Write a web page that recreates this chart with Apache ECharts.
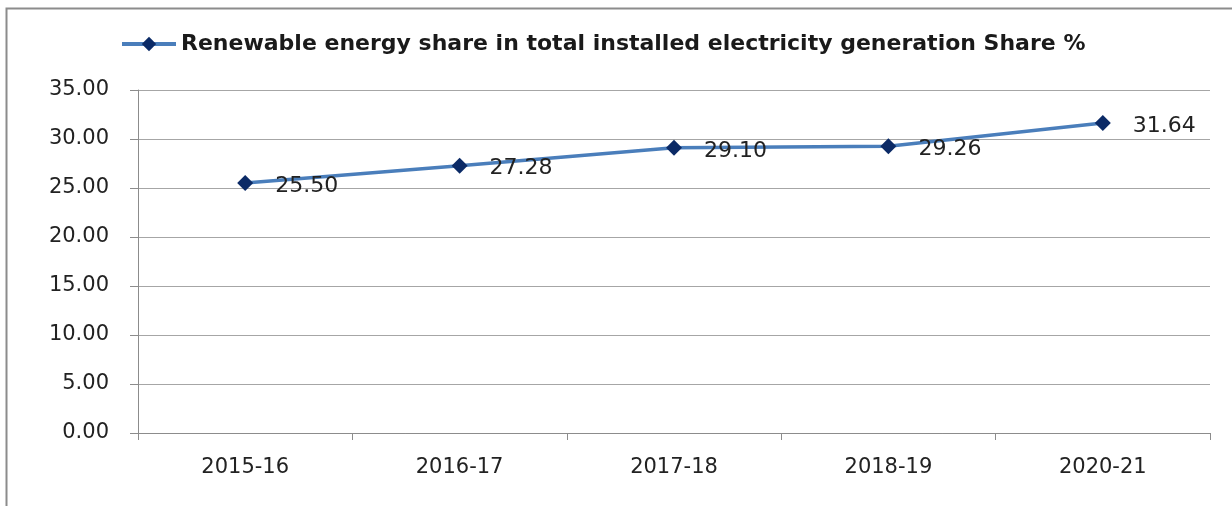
<!DOCTYPE html>
<html>
<head>
<meta charset="utf-8">
<script src="https://cdn.jsdelivr.net/npm/echarts@6/dist/echarts.min.js"></script>
<style>
  html, body { margin: 0; padding: 0; background: #fff; }
  #chart { width: 1232px; height: 506px; }
</style>
</head>
<body>
<div id="chart"></div>
<script>
const years = ['2015-16', '2016-17', '2017-18', '2018-19', '2020-21']
const shareValues = [25.50, 27.28, 29.10, 29.26, 31.64]
const seriesName = 'Renewable energy share in total installed electricity generation Share %'

const myChart = echarts.init(document.getElementById('chart'))
myChart.setOption({
  animation: false,
  graphic: [
    {
      type: 'rect',
      shape: { x: 6.5, y: 8.5, width: 1300, height: 600 },
      style: { fill: 'none', stroke: '#8c8c8c', lineWidth: 2 }
    }
  ],
  legend: {
    data: [seriesName],
    top: 28,
    left: 115,
    itemWidth: 54,
    itemHeight: 18,
    itemGap: 4,
    lineStyle: { width: 4 },
    textStyle: {
      fontFamily: 'DejaVu Sans',
      fontWeight: 'bold',
      fontSize: 22,
      color: '#1a1a1a'
    }
  },
  grid: {
    left: 138,
    right: 22,
    top: 90,
    bottom: 73
  },
  xAxis: {
    type: 'category',
    data: years,
    boundaryGap: true,
    axisLine: { lineStyle: { color: '#8c8c8c', width: 1 } },
    axisTick: { show: true, length: 7, lineStyle: { color: '#8c8c8c' } },
    axisLabel: {
      margin: 24,
      fontFamily: 'DejaVu Sans',
      fontSize: 21,
      color: '#222'
    }
  },
  yAxis: {
    type: 'value',
    min: 0,
    max: 35,
    interval: 5,
    axisLine: { show: true, lineStyle: { color: '#8c8c8c', width: 1 } },
    axisTick: { show: true, length: 8, inside: false, lineStyle: { color: '#8c8c8c' } },
    splitLine: { lineStyle: { color: '#a6a6a6', width: 1 } },
    axisLabel: {
      margin: 29,
      fontFamily: 'DejaVu Sans',
      fontSize: 21,
      color: '#222',
      formatter: v => v.toFixed(2)
    }
  },
  series: [
    {
      name: seriesName,
      type: 'line',
      data: shareValues,
      symbol: 'diamond',
      symbolSize: 16,
      lineStyle: { color: '#4a7ebb', width: 3.5 },
      itemStyle: { color: '#0b2a66' },
      label: {
        show: true,
        position: 'right',
        distance: 22,
        offset: [0, 3],
        fontFamily: 'DejaVu Sans',
        fontSize: 22,
        color: '#222',
        formatter: p => p.value.toFixed(2)
      }
    }
  ]
})
</script>
</body>
</html>
